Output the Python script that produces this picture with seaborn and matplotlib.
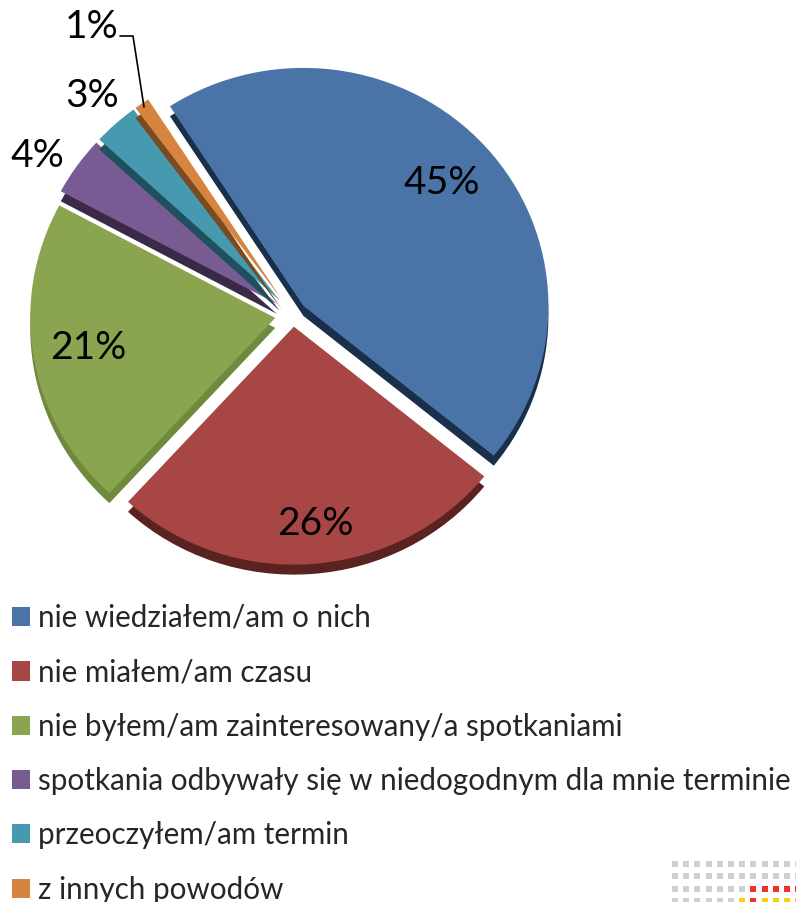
import matplotlib
matplotlib.use("Agg")
import matplotlib.pyplot as plt
import seaborn as sns

sns.set_theme(style="white")
plt.rcParams['font.family'] = ['Lato', 'DejaVu Sans']

categories = ["nie wiedziałem/am o nich", "nie miałem/am czasu",
              "nie byłem/am zainteresowany/a spotkaniami",
              "spotkania odbywały się w niedogodnym dla mnie terminie",
              "przeoczyłem/am termin", "z innych powodów"]
values = [45, 26, 21, 4, 3, 1]
labels = ["45%", "26%", "21%", "4%", "3%", "1%"]
top_colors = ["#4a74a8", "#a74644", "#8aa450", "#775b92", "#4699ae", "#d6843f"]
side_colors = ["#1a2f4a", "#5a2322", "#6f8a3c", "#3a2a48", "#1f5060", "#7a4a20"]
explode = [14, 12, 18, 20, 20, 20]

W, H = 796, 902
fig = plt.figure(figsize=(W / 100, H / 100), dpi=100)
ax = fig.add_axes([0, 0, 1, 1])
ys_scale = 238 / 245
def Y(px):
    return (H - px) / ys_scale
R, cx, cy, depth = 245, 293, Y(315), 10 / ys_scale

side, _ = ax.pie(values, colors=side_colors, explode=explode, startangle=123, counterclock=False,
                 radius=R, center=(cx, cy - depth), frame=True, wedgeprops=dict(linewidth=0))
top, _ = ax.pie(values, colors=top_colors, explode=explode, startangle=123, counterclock=False,
                radius=R, center=(cx, cy), frame=True, wedgeprops=dict(linewidth=0))
for i, (s, t) in enumerate(zip(side, top)):
    s.set_zorder(2 + 2 * i)
    t.set_zorder(3 + 2 * i)
    t.set_label(categories[i])

ax.set_aspect("auto")
ax.set_xlim(0, W)
ax.set_ylim(0, Y(0))
ax.axis("off")

label_xy = [(442, 183), (315, 524), (88, 348), (37, 156), (92, 96), (92, 27)]
for txt, (x, y) in zip(labels, label_xy):
    ax.text(x, Y(y), txt, ha="center", va="center", fontsize=28, color="black", zorder=30)
ax.plot([120, 133, 144], [Y(36), Y(36), Y(107)], color="black", lw=1.2, zorder=30)

fs = 21.3
ax.legend(handles=list(top), labels=categories, loc="upper left", bbox_to_anchor=(12 / W, 1 - 604 / H),
          frameon=False, fontsize=fs, handlelength=0.62, handleheight=0.62, handletextpad=0.26,
          labelspacing=0.89, borderpad=0, borderaxespad=0)

# logo in the corner
grey, red, yellow = "#cfcfd1", "#f0302a", "#fbd011"
xs = [675 + 11.2 * i for i in range(12)]
ys = [864, 876, 889, 901]
for r, y in enumerate(ys):
    for c, x in enumerate(xs):
        col = grey
        if r == 2 and c >= 7:
            col = red
        if r == 3 and c >= 6:
            col = red if c == 7 else yellow
        ax.scatter([x], [Y(y)], marker="s", s=18, color=col, linewidths=0, zorder=5)

fig.savefig("out.png", dpi=100, facecolor="white")
